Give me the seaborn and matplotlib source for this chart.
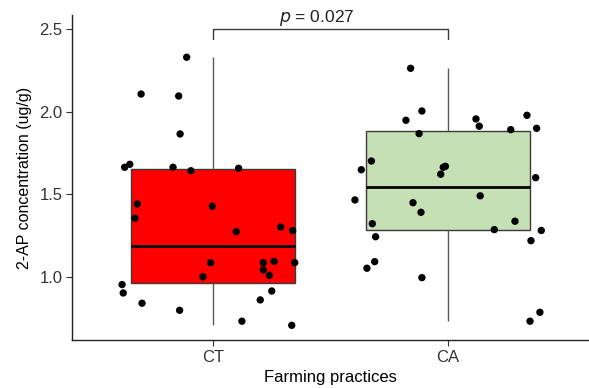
import numpy as np
import pandas as pd
import matplotlib
matplotlib.use("Agg")
import matplotlib.pyplot as plt
import seaborn as sns

groups = ["CT", "CA"]
box_colors = ["#FF0000", "#C5E0B4"]

ct_values = [2.330, 2.107, 2.095, 1.865, 1.663, 1.681, 1.663, 1.642, 1.657, 1.441,
             1.354, 1.427, 1.273, 1.301, 1.279, 1.085, 1.085, 1.093, 1.085, 1.041,
             1.008, 1.000, 0.952, 0.901, 0.839, 0.796, 0.913, 0.859, 0.730, 0.705]
ct_jitter = [-0.112, -0.306, -0.146, -0.140, -0.376, -0.354, -0.170, -0.094, 0.109, -0.322,
             -0.332, -0.003, 0.099, 0.288, 0.339, -0.010, 0.214, 0.260, 0.348, 0.214,
             0.240, -0.043, -0.387, -0.382, -0.302, -0.142, 0.250, 0.201, 0.123, 0.335]

ca_values = [2.263, 2.004, 1.948, 1.956, 1.912, 1.978, 1.899, 1.891, 1.867, 1.701,
             1.648, 1.669, 1.663, 1.621, 1.600, 1.465, 1.448, 1.490, 1.390, 1.321,
             1.336, 1.285, 1.242, 1.280, 1.218, 1.091, 1.051, 0.994, 0.784, 0.730]
ca_jitter = [-0.159, -0.111, -0.179, 0.119, 0.133, 0.336, 0.377, 0.267, -0.123, -0.326,
             -0.369, -0.011, -0.020, -0.031, 0.373, -0.396, -0.149, 0.137, -0.115, -0.322,
             0.285, 0.197, -0.308, 0.397, 0.353, -0.312, -0.345, -0.111, 0.391, 0.349]

p_label = "p = 0.027"

df = pd.DataFrame({
    "group": ["CT"] * len(ct_values) + ["CA"] * len(ca_values),
    "value": ct_values + ca_values,
    "jitter": ct_jitter + ca_jitter,
})
df["xpos"] = df["group"].map({g: i for i, g in enumerate(groups)}) + df["jitter"]

sns.set_theme(style="ticks")
plt.rcParams["font.family"] = ["Liberation Sans", "DejaVu Sans"]

fig = plt.figure(figsize=(5.89, 3.88), dpi=100)
ax = fig.add_axes([72 / 589, 48 / 388, 517 / 589, 325 / 388])

sns.boxplot(data=df, x="group", y="value", hue="group", order=groups, hue_order=groups,
            palette=box_colors, saturation=1, width=0.7, showfliers=False, showcaps=False,
            whis=1.5, linewidth=1.0, linecolor="#3a3a3a", legend=False, ax=ax,
            medianprops=dict(color="black", linewidth=2.0),
            whiskerprops=dict(color="#5a5a5a", linewidth=1.0),
            boxprops=dict(edgecolor="#3a3a3a", linewidth=1.0))

sns.scatterplot(data=df, x="xpos", y="value", color="black", s=28, edgecolor="none",
                ax=ax, zorder=5, legend=False)

# significance bracket
ax.plot([0, 0, 1, 1], [2.44, 2.50, 2.50, 2.44], color="#3a3a3a", lw=1.0,
        clip_on=False)
ax.text(0.44, 2.505, "$\\it{p}$ = 0.027", ha="center", va="bottom", fontsize=12.5,
        color="#222222", clip_on=False)

ax.set_xlim(-0.6, 1.6)
ax.set_ylim(0.616, 2.586)
ax.set_yticks([1.0, 1.5, 2.0, 2.5])
ax.set_yticklabels(["1.0", "1.5", "2.0", "2.5"])
ax.set_xticks([0, 1])
ax.set_xticklabels(groups)
ax.set_xlabel("Farming practices", fontsize=12, color="black", labelpad=4)
ax.set_ylabel("2-AP concentration (ug/g)", fontsize=11.5, color="black", labelpad=5)
ax.tick_params(axis="both", labelsize=12, labelcolor="#333333", color="#333333",
               length=4, width=0.8, pad=3)
sns.despine(ax=ax)
for s in ["left", "bottom"]:
    ax.spines[s].set_color("#222222")
    ax.spines[s].set_linewidth(1.0)
ax.grid(False)

fig.savefig("out.png", dpi=100)
